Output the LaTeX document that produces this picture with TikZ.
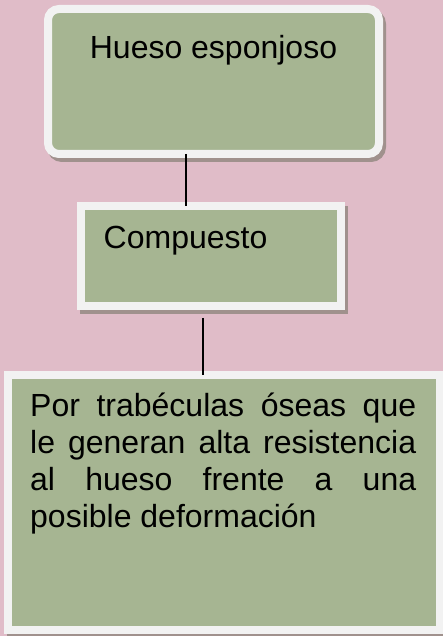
\documentclass[tikz,border=0pt]{standalone}
\usepackage{fontspec}
\setmainfont{Liberation Sans}
\usetikzlibrary{shadows}
\definecolor{bgpink}{RGB}{224,188,200}
\definecolor{boxgreen}{RGB}{166,181,146}
\definecolor{rimwhite}{RGB}{242,242,242}
\definecolor{shadowc}{RGB}{160,145,141}
\tikzset{
  box/.style={rectangle, fill=boxgreen, draw=rimwhite, line width=8pt, outer sep=0pt, inner sep=0pt},
  shad/.style={drop shadow={shadow xshift=3pt, shadow yshift=-4pt, fill=shadowc, draw=shadowc, line width=8pt, opacity=1}},
  txt/.style={inner sep=0pt, font=\fontsize{32}{37}\selectfont},
  link/.style={draw=black, line width=1.3pt}
}
\begin{document}
\begin{tikzpicture}[x=1pt,y=1pt]
\useasboundingbox[fill=bgpink] (0,0) rectangle (443,636);
% boxes
\node[box, shad, rounded corners=11pt, minimum width=331pt, minimum height=145pt] (b1) at (213.5,554.5) {};
\node[box, shad, minimum width=260pt, minimum height=100pt] (b2) at (211,380) {};
\node[box, shad, minimum width=432pt, minimum height=255pt] (b3) at (224,133.5) {};
% texts
\node[txt, anchor=base] (t1) at (213.5,577) {Hueso esponjoso};
\node[txt, anchor=base west] (t2) at (103.5,387) {Compuesto};
\node[txt, anchor=base west, text width=386pt, align=justify] (t3) at (30,219)
  {Por trabéculas óseas que\linebreak le generan alta resistencia\linebreak al hueso frente a una\linebreak posible deformación};
% connectors
\draw[link] ([xshift=-27.5pt]b1.south) -- ([xshift=-25pt]b2.north);
\draw[link] ([xshift=-8pt,yshift=-12pt]b2.south) -- ([xshift=-21pt]b3.north);
\end{tikzpicture}
\end{document}
